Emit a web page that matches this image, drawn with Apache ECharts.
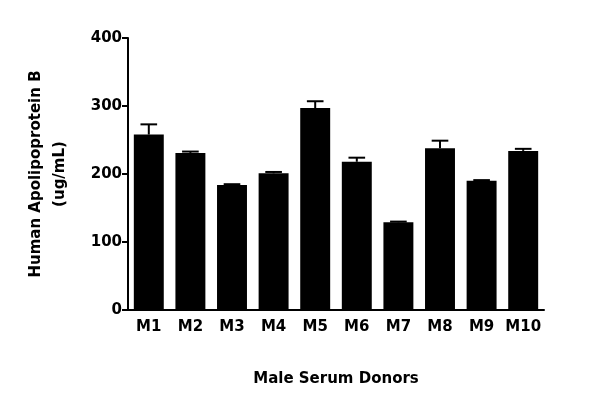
<!DOCTYPE html>
<html><head><meta charset="utf-8">
<script src="https://cdn.jsdelivr.net/npm/echarts@6/dist/echarts.min.js"></script>
<style>html,body{margin:0;padding:0;background:#fff}#c{width:600px;height:410px}</style>
</head><body><div id="c"></div>
<script>
var categories=['M1','M2','M3','M4','M5','M6','M7','M8','M9','M10'];
var values=[258,231,184,201,297,218,129,238,190,234];
var errors=[15,2,1,2,10,6,1,11,1,3];
var yTicks=[0,100,200,300,400];
var font='DejaVu Sans';
var chart=echarts.init(document.getElementById('c'));
chart.setOption({
  animation:false,
  grid:{left:128,right:56,top:38,bottom:100},
  xAxis:{type:'category',data:categories,
    axisLine:{lineStyle:{color:'#000',width:2}},axisTick:{show:false},
    axisLabel:{interval:0,color:'#000',fontSize:15,fontWeight:'bold',fontFamily:font,margin:10},
    name:'Male Serum Donors',nameLocation:'middle',nameGap:62,
    nameTextStyle:{color:'#000',fontSize:15,fontWeight:'bold',fontFamily:font}},
  yAxis:{type:'value',min:0,max:400,interval:100,
    axisLine:{show:true,lineStyle:{color:'#000',width:2}},
    axisTick:{show:true,length:6,lineStyle:{width:2}},splitLine:{show:false},
    axisLabel:{color:'#000',fontSize:15,fontWeight:'bold',fontFamily:font,margin:6},
    name:'Human Apolipoprotein B\n(ug/mL)',nameLocation:'middle',nameGap:56,
    nameTextStyle:{color:'#000',fontSize:15,fontWeight:'bold',fontFamily:font,lineHeight:24}},
  series:[
    {type:'bar',data:values,barWidth:'72%',itemStyle:{color:'#000'}},
    {type:'custom',data:values.map(function(v,i){return [i,v,v+errors[i]];}),z:5,
     renderItem:function(params,api){
       var b=api.coord([api.value(0),api.value(1)]);
       var t=api.coord([api.value(0),api.value(2)]);
       var w=api.size([1,0])[0]*0.2;
       return {type:'group',children:[
         {type:'line',shape:{x1:b[0],y1:b[1],x2:t[0],y2:t[1]},style:{stroke:'#000',lineWidth:2}},
         {type:'line',shape:{x1:t[0]-w,y1:t[1],x2:t[0]+w,y2:t[1]},style:{stroke:'#000',lineWidth:2}}
       ]};
     }}
  ]
});
</script></body></html>
